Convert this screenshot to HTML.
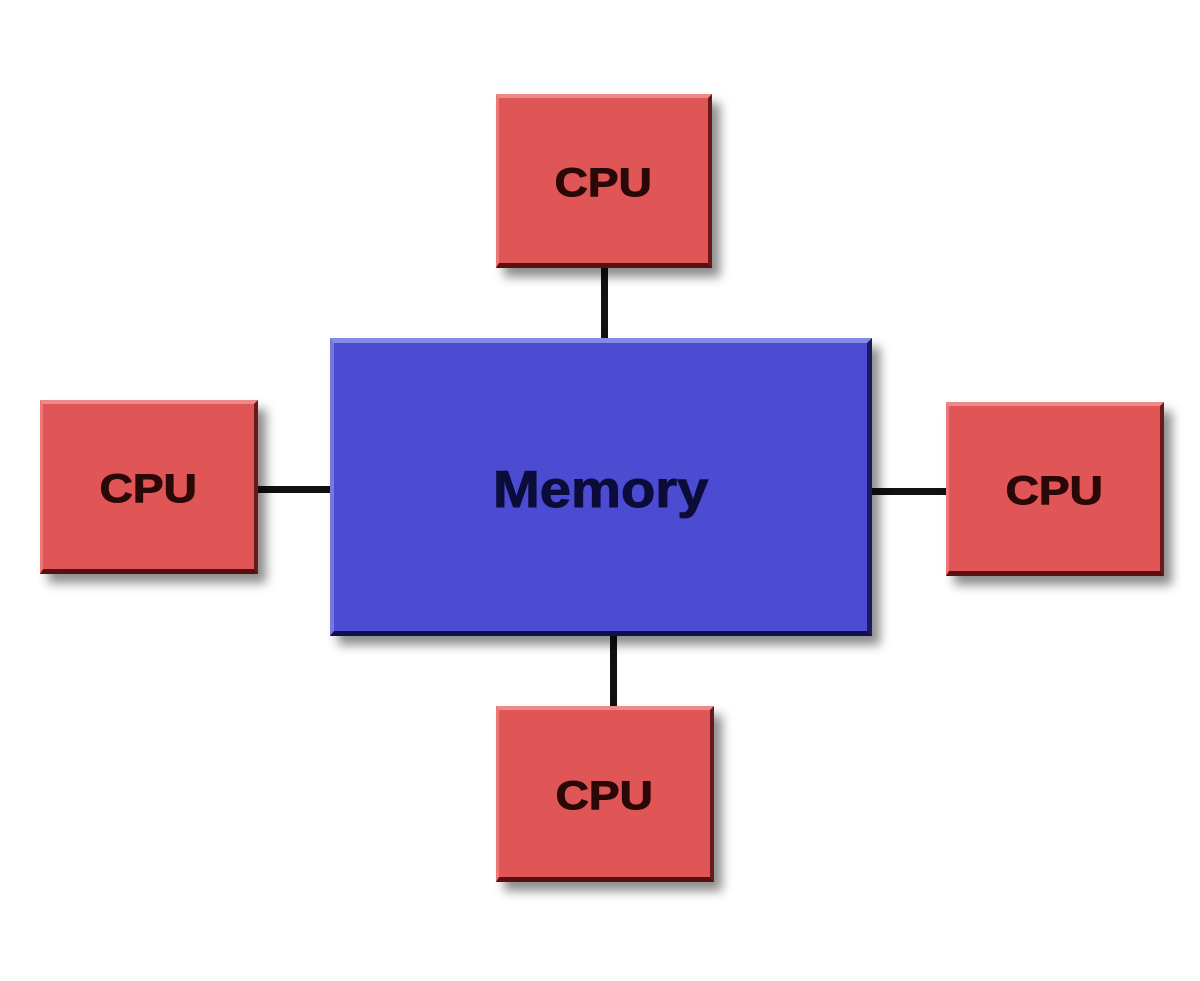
<!DOCTYPE html>
<html><head><style>
body{margin:0;width:1200px;height:981px;background:#fff;position:relative;overflow:hidden;font-family:"Liberation Sans",Arial,sans-serif}
.b{position:absolute;box-sizing:border-box;display:flex;align-items:center;justify-content:center;font-weight:bold;box-shadow:8px 9px 10px rgba(0,0,0,0.45)}
.b span{display:inline-block;transform:scaleX(1.15);-webkit-text-stroke:1px currentColor;position:relative;top:3px}
.c{background:#e05656;border-top:4px solid #ec8a8a;border-left:3px solid #e77;border-bottom:5px solid #5a1010;border-right:4px solid #6a1a1a;color:#2a0808;font-size:40px}
.m{background:#4c4cd2;border-top:5px solid #8888e6;border-left:4px solid #7777dd;border-bottom:5px solid #10104a;border-right:5px solid #1a1a60;color:#0c0c3a;font-size:52px}
.m span{transform:scaleX(1.08)}
.l{position:absolute;background:#111}
</style></head><body>
<div class="l" style="left:601px;top:266px;width:7px;height:74px"></div>
<div class="l" style="left:256px;top:486px;width:76px;height:7px"></div>
<div class="l" style="left:870px;top:488px;width:78px;height:7px"></div>
<div class="l" style="left:610px;top:634px;width:7px;height:74px"></div>
<div class="b m" style="left:330px;top:338px;width:542px;height:298px"><span>Memory</span></div>
<div class="b c" style="left:496px;top:94px;width:216px;height:174px"><span>CPU</span></div>
<div class="b c" style="left:40px;top:400px;width:218px;height:174px"><span>CPU</span></div>
<div class="b c" style="left:946px;top:402px;width:218px;height:174px"><span>CPU</span></div>
<div class="b c" style="left:496px;top:706px;width:218px;height:176px"><span>CPU</span></div>
</body></html>
